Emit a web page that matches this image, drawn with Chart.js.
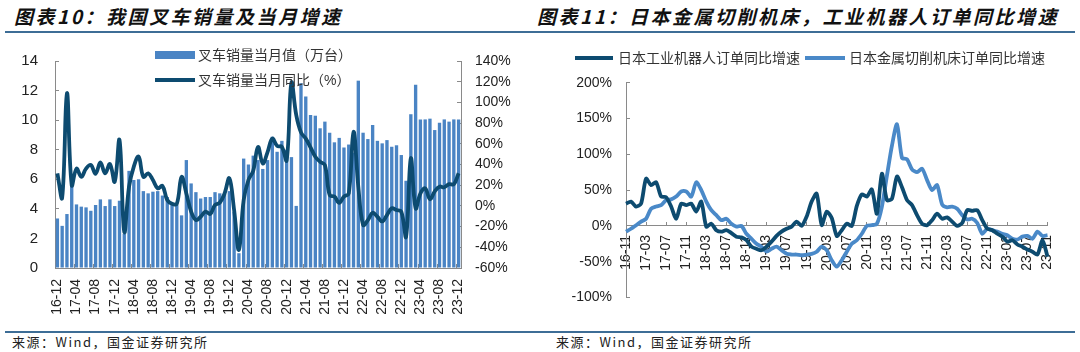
<!DOCTYPE html>
<html>
<head>
<meta charset="utf-8">
<script src="https://cdn.jsdelivr.net/npm/chart.js@4.4.1/dist/chart.umd.min.js"></script>
<style>
  body { margin: 0; width: 1080px; height: 352px; background: #fff; position: relative; overflow: hidden;
         font-family: "Liberation Sans", "Noto Sans CJK SC", sans-serif; color: #222; }
  canvas { position: absolute; top: 0; }
  .title { position: absolute; top: 6px; font: italic bold 19px/20px "Noto Sans CJK SC", sans-serif;
           letter-spacing: 2.5px; white-space: nowrap; color: #111; }
  .rule { position: absolute; height: 2px; background: #3d6d96; }
  .src { position: absolute; top: 334px; font: 13px/16px "Noto Sans CJK SC", sans-serif; letter-spacing: 1.5px; color: #222; }
  .lg { position: absolute; font: 14px/16px "Liberation Sans", "Noto Sans CJK SC", sans-serif; white-space: nowrap; color: #333; z-index: 2; }
  .sw { position: absolute; z-index: 2; }
</style>
</head>
<body>
<div class="title" style="left:14px">图表10：我国叉车销量及当月增速</div>
<div class="title" style="right:21px">图表11：日本金属切削机床，工业机器人订单同比增速</div>
<div class="rule" style="left:5px;width:1070px;top:31px"></div>

<canvas id="forklift" width="540" height="330" style="left:0"></canvas>
<canvas id="japan" width="540" height="330" style="left:540px"></canvas>

<div class="sw" style="left:155px;top:51px;width:40px;height:8px;background:#4a84c4"></div>
<div class="lg" style="left:198px;top:47px">叉车销量当月值（万台）</div>
<div class="sw" style="left:155px;top:78px;width:40px;height:4px;background:#0d4b70"></div>
<div class="lg" style="left:198px;top:72px">叉车销量当月同比（%）</div>

<div class="sw" style="left:575px;top:56px;width:38px;height:4px;background:#0d4b70"></div>
<div class="lg" style="left:618px;top:50px">日本工业机器人订单同比增速</div>
<div class="sw" style="left:805px;top:56px;width:40px;height:4px;background:#4a89c8"></div>
<div class="lg" style="left:849px;top:50px">日本金属切削机床订单同比增速</div>

<div class="rule" style="left:5px;width:1070px;top:331px;height:1.5px"></div>
<div class="src" style="left:12px">来源：Wind，国金证券研究所</div>
<div class="src" style="left:556px">来源：Wind，国金证券研究所</div>

<script>
// 图表10 叉车
const forkliftMonths = [
  '16-12',
  '17-01','17-02','17-03','17-04','17-05','17-06','17-07','17-08','17-09','17-10','17-11','17-12',
  '18-01','18-02','18-03','18-04','18-05','18-06','18-07','18-08','18-09','18-10','18-11','18-12',
  '19-01','19-02','19-03','19-04','19-05','19-06','19-07','19-08','19-09','19-10','19-11','19-12',
  '20-01','20-02','20-03','20-04','20-05','20-06','20-07','20-08','20-09','20-10','20-11','20-12',
  '21-01','21-02','21-03','21-04','21-05','21-06','21-07','21-08','21-09','21-10','21-11','21-12',
  '22-01','22-02','22-03','22-04','22-05','22-06','22-07','22-08','22-09','22-10','22-11','22-12',
  '23-01','23-02','23-03','23-04','23-05','23-06','23-07','23-08','23-09','23-10','23-11','23-12'
];
// 当月值（万台）
const forkliftSales = [
  3.35,
  2.85, 3.65, 5.6, 4.3, 4.15, 4.1, 3.87, 4.26, 4.64, 4.19, 4.64, 4.19,
  4.55, 2.3, 6.57, 5.95, 6.0, 5.2, 5.05, 5.16, 5.2, 4.9, 4.8, 4.26,
  4.26, 3.56, 7.3, 5.72, 5.13, 4.7, 4.8, 4.8, 5.13, 5.05, 5.0, 5.2,
  3.8, 1.0, 7.4, 7.0, 7.6, 7.3, 6.7, 7.3, 8.87, 7.86, 8.6, 8.0,
  7.5, 4.2, 12.5, 11.6, 10.35, 10.3, 9.45, 9.9, 9.15, 8.5, 8.8, 8.15,
  8.35, 7.8, 12.67, 9.15, 8.72, 9.67, 8.6, 8.43, 8.65, 8.2, 8.3, 7.64,
  5.9, 10.4, 12.4, 10.05, 10.05, 10.1, 9.33, 9.83, 10.05, 9.9, 10.05, 10.05
];
// 当月同比（%）
const forkliftYoy = [
  31.5,
  8, 109, 20, 36, 28, 36, 39.5, 31, 42, 31.5, 40.5, 23.4,
  63.7, -25, 18.6, 38, 47.6, 28, 31.5, 25, 17, 19.2, 5.7, 2,
  2, 28, 12, -5.6, -13.7, -10.5, -5.6, -7.8, 0.8, 3, 12, 26.7,
  -4, -42.6, 5.7, 25, 34, 57, 41, 52, 65, 58, 57, 44,
  119, 88, 71, 65, 56.6, 47.5, 42.7, 39.5, 10.5, 9, 3, 9,
  12, 71.7, 18.6, -18.4, -13.7, -6.6, -10.5, -15, -8.8, -2.3, -4, -5.6,
  -29.7, 46, -2.3, 12, 17, 6.4, 14, 18.6, 18, 21, 21, 31.5
];

// 图表11 日本订单
const japanMonths = [
  '16-11','16-12',
  '17-01','17-02','17-03','17-04','17-05','17-06','17-07','17-08','17-09','17-10','17-11','17-12',
  '18-01','18-02','18-03','18-04','18-05','18-06','18-07','18-08','18-09','18-10','18-11','18-12',
  '19-01','19-02','19-03','19-04','19-05','19-06','19-07','19-08','19-09','19-10','19-11','19-12',
  '20-01','20-02','20-03','20-04','20-05','20-06','20-07','20-08','20-09','20-10','20-11','20-12',
  '21-01','21-02','21-03','21-04','21-05','21-06','21-07','21-08','21-09','21-10','21-11','21-12',
  '22-01','22-02','22-03','22-04','22-05','22-06','22-07','22-08','22-09','22-10','22-11','22-12',
  '23-01','23-02','23-03','23-04','23-05','23-06','23-07','23-08','23-09','23-10','23-11'
];
const robotOrders = [
  31, 34,
  27, 31, 66, 57, 61, 41, 40, 27, 10, 31, 29, 31,
  20, 34, -1, 3, -6, -8, -6, -10, -15, -16, -20, -29,
  -32, -34, -29, -22, -14, -8, -4, -1, 6, 0, 13, 34,
  45, 1, 20, 11, -14, -6, 3, 0, 28, 44, 41, 51,
  17, 73, 36, 38, 69, 54, 36, 29, 15, 3, 1, 8,
  17, 10, 12, 6, 0, 4, 22, 21, 22, 8, -4, -6,
  -11, -15, -22, -20, -26, -29, -33, -36, -40, -20, -43
];
const machineToolOrders = [
  -8, -4,
  1, 6, 10, 24, 27, 29, 36, 37, 41, 48, 48, 41,
  61, 50, 34, 22, 15, 8, 10, 3, -1, 0, -11, -18,
  -25, -29, -36, -32, -29, -34, -39, -40, -40, -41, -40, -39,
  -36, -29, -34, -48, -57, -48, -36, -25, -20, -11, 0, 1,
  3, 27, 70, 112, 142, 95, 93, 79, 75, 80, 64, 50,
  57, 30, 26, 27, 24, 15, 9, 10, 4, -11, -4, -6,
  -8, -11, -13, -18, -19, -15, -14, -18, -8, -14, -13
];

const axisGrey = '#8a8a8a';
const textCol = '#222';
const everyFourth = (ctx) => (ctx.index % 4 === 0 ? axisGrey : 'rgba(0,0,0,0)');

new Chart(document.getElementById('forklift').getContext('2d'), {
  data: {
    labels: forkliftMonths,
    datasets: [
      {
        type: 'line',
        label: '叉车销量当月同比（%）',
        data: forkliftYoy,
        yAxisID: 'y1',
        borderColor: '#0d4b70',
        borderWidth: 3.8,
        pointRadius: 0,
        tension: 0.4,
        borderJoinStyle: 'round',
        order: 0,
      },
      {
        type: 'bar',
        label: '叉车销量当月值（万台）',
        data: forkliftSales,
        yAxisID: 'y',
        backgroundColor: '#4a84c4',
        categoryPercentage: 1,
        barPercentage: 0.7,
        order: 1,
      },
    ],
  },
  options: {
    responsive: false,
    animation: false,
    devicePixelRatio: 1,
    layout: { padding: { top: 61, left: 0, right: 0, bottom: 0 } },
    plugins: { legend: { display: false }, tooltip: { enabled: false } },
    scales: {
      x: {
        offset: true,
        grid: { offset: true, drawOnChartArea: false, tickLength: -4, color: everyFourth },
        border: { color: axisGrey },
        ticks: {
          autoSkip: false, minRotation: 90, maxRotation: 90, padding: 15,
          color: textCol, font: { size: 14 },
          callback: function (v, i) { return i % 4 === 0 ? this.getLabelForValue(v) : ''; },
        },
        afterFit: (s) => { s.height = 62; },
      },
      y: {
        position: 'left',
        min: 0, max: 14,
        grid: { drawOnChartArea: false, tickLength: -4, color: axisGrey },
        border: { color: axisGrey },
        ticks: { stepSize: 2, padding: 21, color: textCol, font: { size: 15 } },
        afterFit: (s) => { s.width = 55; },
      },
      y1: {
        position: 'right',
        min: -60, max: 140,
        grid: { drawOnChartArea: false, tickLength: -4, color: axisGrey },
        border: { color: axisGrey },
        ticks: { stepSize: 20, padding: 18, color: textCol, font: { size: 14 }, callback: (v) => v + '%' },
        afterFit: (s) => { s.width = 79; },
      },
    },
  },
});

new Chart(document.getElementById('japan').getContext('2d'), {
  type: 'line',
  data: {
    labels: japanMonths,
    datasets: [
      {
        label: '日本工业机器人订单同比增速',
        data: robotOrders,
        borderColor: '#0d4b70',
        borderWidth: 3.8,
        pointRadius: 0,
        tension: 0.25,
        borderJoinStyle: 'round',
      },
      {
        label: '日本金属切削机床订单同比增速',
        data: machineToolOrders,
        borderColor: '#4a89c8',
        borderWidth: 3.8,
        pointRadius: 0,
        tension: 0.25,
        borderJoinStyle: 'round',
      },
    ],
  },
  options: {
    responsive: false,
    animation: false,
    devicePixelRatio: 1,
    layout: { padding: { top: 82.7, left: 0, right: 32.5, bottom: 32.5 } },
    plugins: { legend: { display: false }, tooltip: { enabled: false } },
    scales: {
      x: {
        offset: false,
        position: { y: 0 },
        grid: { drawOnChartArea: false, tickLength: -4, color: everyFourth },
        border: { color: axisGrey },
        ticks: {
          autoSkip: false, minRotation: 90, maxRotation: 90, padding: 13,
          color: textCol, font: { size: 14 },
          callback: function (v, i) { return i % 4 === 0 ? this.getLabelForValue(v) : ''; },
        },
      },
      y: {
        min: -100, max: 200,
        grid: { drawOnChartArea: false, tickLength: -4, color: axisGrey },
        border: { color: axisGrey },
        ticks: { stepSize: 50, padding: 18, color: textCol, font: { size: 14 }, callback: (v) => v + '%' },
        afterFit: (s) => { s.width = 86; },
      },
    },
  },
});
</script>
</body>
</html>
